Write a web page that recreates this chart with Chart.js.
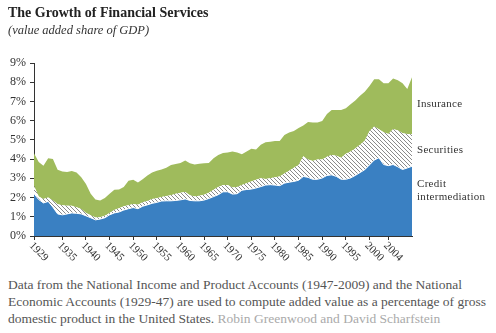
<!DOCTYPE html>
<html>
<head>
  <title>The Growth of Financial Services</title>
  <script src="https://cdn.jsdelivr.net/npm/chart.js"></script>
  <style>
    body { margin: 0; background: #fff; width: 496px; height: 333px; overflow: hidden; position: relative; }
    .serif { font-family: "Liberation Serif", "DejaVu Serif", serif; }
    #title { position: absolute; left: 8px; top: 5px; font-size: 14px; font-weight: bold; color: #222; }
    #sub { position: absolute; left: 8px; top: 23px; font-size: 12.5px; font-style: italic; color: #333; }
    #wrap { position: absolute; left: 0; top: 0; width: 496px; height: 270px; }
    .lbl { position: absolute; left: 417px; font-size: 11px; color: #333; line-height: 13px; letter-spacing: 0.3px; }
    #caption { position: absolute; left: 8px; top: 276px; width: 485px; font-family: "Liberation Serif", serif; font-size: 13.5px; line-height: 17px; color: #555; }
    #caption span { color: #aaa; }
  </style>
</head>
<body>
  <div id="wrap"><canvas id="chart" width="496" height="270"></canvas></div>
  <div id="title" class="serif">The Growth of Financial Services</div>
  <div id="sub" class="serif">(value added share of GDP)</div>
  <div class="lbl serif" style="top:97px">Insurance</div>
  <div class="lbl serif" style="top:143px">Securities</div>
  <div class="lbl serif" style="top:177px">Credit<br>intermediation</div>
  <div id="caption">Data from the National Income and Product Accounts (1947-2009) and the National Economic Accounts (1929-47) are used to compute added value as a percentage of gross domestic product in the United States. <span>Robin Greenwood and David Scharfstein</span></div>

  <script>
    const years = [];
    for (let y = 1929; y <= 2009; y++) years.push(y);

    // share of GDP, %
    const credit = [2.2, 1.9, 1.72, 1.8, 1.5, 1.15, 1.1, 1.15, 1.2, 1.18,
      1.15, 1.05, 0.95, 0.84, 0.88, 0.95, 1.1, 1.2, 1.25, 1.35,
      1.42, 1.48, 1.42, 1.55, 1.62, 1.7, 1.75, 1.82, 1.83, 1.83,
      1.85, 1.88, 1.93, 1.85, 1.83, 1.83, 1.87, 1.95, 2.05, 2.15,
      2.3, 2.3, 2.18, 2.2, 2.38, 2.42, 2.44, 2.5, 2.57, 2.65,
      2.67, 2.65, 2.62, 2.75, 2.8, 2.84, 2.9, 3.1, 3.05, 2.95,
      2.95, 3.02, 3.15, 3.18, 3.1, 2.95, 2.95, 3.02, 3.15, 3.3,
      3.45, 3.7, 3.95, 4.07, 3.72, 3.66, 3.72, 3.6, 3.46, 3.54,
      3.63];
    const securities = [0.4, 0.15, 0.2, 0.2, 0.35, 0.5, 0.5, 0.43, 0.38, 0.32,
      0.25, 0.15, 0.13, 0.12, 0.1, 0.1, 0.1, 0.15, 0.2, 0.2,
      0.18, 0.18, 0.2, 0.2, 0.2, 0.22, 0.22, 0.21, 0.25, 0.29,
      0.35, 0.37, 0.36, 0.27, 0.23, 0.27, 0.28, 0.3, 0.35, 0.4,
      0.35, 0.35, 0.34, 0.35, 0.27, 0.33, 0.4, 0.42, 0.43, 0.32,
      0.33, 0.4, 0.48, 0.5, 0.6, 0.71, 0.8, 1.05, 0.93, 0.95,
      1.03, 0.96, 0.97, 1.04, 1.08, 1.12, 1.33, 1.38, 1.4, 1.45,
      1.5, 1.75, 1.75, 1.48, 1.68, 1.64, 1.83, 1.9, 1.89, 1.76,
      1.66];
    const insurance = [1.7, 1.8, 1.73, 2.05, 2.15, 1.8, 1.75, 1.75, 1.8, 1.8,
      1.65, 1.5, 1.12, 0.94, 0.87, 0.93, 1.0, 1.05, 0.97, 1.0,
      1.28, 1.26, 1.16, 1.2, 1.33, 1.38, 1.43, 1.43, 1.47, 1.58,
      1.55, 1.55, 1.64, 1.66, 1.66, 1.66, 1.63, 1.55, 1.65, 1.67,
      1.67, 1.7, 1.88, 1.8, 1.6, 1.65, 1.7, 1.58, 1.75, 1.91,
      1.9, 1.89, 1.84, 2.0, 1.98, 1.91, 1.92, 1.6, 1.95, 2.0,
      1.92, 2.0, 2.23, 2.33, 2.37, 2.48, 2.37, 2.46, 2.5, 2.55,
      2.55, 2.35, 2.45, 2.6, 2.55, 2.65, 2.65, 2.6, 2.6, 2.35,
      2.97];

    const xTicks = [1929, 1935, 1940, 1945, 1950, 1955, 1960, 1965, 1970, 1975, 1980, 1985, 1990, 1995, 2000, 2004];
    const xTickLabels = ['1929', '1935', '1940', '1945', '1950', '1955', '1960', '1965', '1970', '1975', '1980', '1985', '1990', '1995', '2000', '2004'];
    const yTicks = [0, 1, 2, 3, 4, 5, 6, 7, 8, 9];

    // diagonal hatch for securities
    const pc = document.createElement('canvas');
    pc.width = 4; pc.height = 4;
    const p = pc.getContext('2d');
    p.fillStyle = '#fff';
    p.fillRect(0, 0, 4, 4);
    p.strokeStyle = '#8a8a8a';
    p.lineWidth = 1;
    p.beginPath();
    p.moveTo(-1, -1); p.lineTo(5, 5);
    p.moveTo(-1, 3); p.lineTo(1, 5);
    p.moveTo(3, -1); p.lineTo(5, 1);
    p.stroke();
    const hatch = p.createPattern(pc, 'repeat');

    const pts = arr => arr.map((v, i) => ({ x: years[i], y: v }));

    const xLabels = {
      id: 'xLabels',
      afterDraw(chart) {
        const ctx = chart.ctx;
        const sx = chart.scales.x;
        ctx.save();
        ctx.font = '11px "Liberation Serif", serif';
        ctx.fillStyle = '#333';
        ctx.textAlign = 'left';
        ctx.textBaseline = 'middle';
        xTicks.forEach((v, i) => {
          const px = sx.getPixelForValue(v);
          ctx.save();
          ctx.translate(px - 3, sx.top + 8);
          ctx.rotate(Math.PI / 4);
          ctx.fillText(xTickLabels[i], 0, 0);
          ctx.restore();
        });
        ctx.restore();
      }
    };

    const ctx = document.getElementById('chart').getContext('2d');
    new Chart(ctx, {
      type: 'line',
      data: {
        datasets: [
          { label: 'Credit intermediation', data: pts(credit), backgroundColor: '#3a80c2', borderColor: '#fff', borderWidth: 1, fill: 'origin' },
          { label: 'Securities', data: pts(securities), backgroundColor: hatch, borderColor: 'rgba(0,0,0,0)', borderWidth: 0, fill: '-1' },
          { label: 'Insurance', data: pts(insurance), backgroundColor: '#9fbb5c', borderColor: 'rgba(0,0,0,0)', borderWidth: 0, fill: '-1' }
        ]
      },
      options: {
        responsive: false,
        animation: false,
        layout: { padding: { top: 63, right: 84, left: 0, bottom: 0 } },
        elements: { point: { radius: 0 }, line: { tension: 0 } },
        plugins: { legend: { display: false }, tooltip: { enabled: false } },
        scales: {
          x: {
            type: 'linear', min: 1929, max: 2009,
            afterBuildTicks: s => { s.ticks = xTicks.map(v => ({ value: v })); },
            afterFit: s => { s.height = 34; },
            ticks: { display: false, autoSkip: false },
            grid: { drawOnChartArea: false, tickLength: 4, color: '#333' },
            border: { color: '#333', width: 1 }
          },
          y: {
            stacked: true, min: 0, max: 9,
            afterBuildTicks: s => { s.ticks = yTicks.map(v => ({ value: v })); },
            afterFit: s => { s.width = 34; },
            ticks: { autoSkip: false, callback: v => v + '%', color: '#333', padding: 4, font: { family: '"Liberation Serif", serif', size: 12 } },
            grid: { drawOnChartArea: false, tickLength: 4, color: '#333' },
            border: { color: '#333', width: 1 }
          }
        }
      },
      plugins: [xLabels]
    });
  </script>
</body>
</html>
